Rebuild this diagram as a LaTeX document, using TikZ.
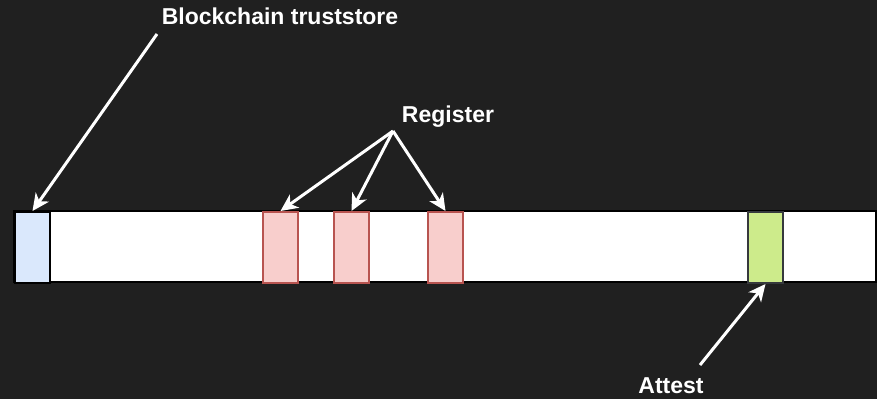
\documentclass[tikz,border=0pt]{standalone}
\usepackage{fontspec}
\setmainfont{Liberation Sans}
\usetikzlibrary{arrows.meta}
\definecolor{bg}{HTML}{202020}
\definecolor{bluef}{HTML}{DAE8FC}
\definecolor{redf}{HTML}{F8CECC}
\definecolor{redd}{HTML}{B85450}
\definecolor{greenf}{HTML}{CDEB8B}
\definecolor{greend}{HTML}{36393D}
\begin{document}
\begin{tikzpicture}[x=1pt,y=-1pt,
  lbl/.style={text=white,font=\bfseries\fontsize{23}{27}\selectfont,inner sep=0pt},
  cell/.style={draw=black,line width=2pt,minimum width=35pt,minimum height=71pt,inner sep=0pt,anchor=north west},
  regcell/.style={cell,draw=redd,fill=redf},
  arr/.style={draw=white,line width=3pt,-{Stealth[length=17pt,width=16pt,inset=5pt]}}]
\fill[bg] (0,0) rectangle (877,399);
\useasboundingbox (0,0) rectangle (877,399);
\draw[fill=white,draw=black,line width=2pt] (14,211) rectangle (876,282);
\node[cell,fill=bluef] (bt) at (14,211) {};
\node[regcell] (r1) at (262,211) {};
\node[regcell] (r2) at (333,211) {};
\node[regcell] (r3) at (427,211) {};
\node[cell,fill=greenf,draw=greend] (at) at (747,211) {};
\node[lbl] (tbt) at (280,16) {Blockchain truststore};
\node[lbl] (treg) at (448,117) {Register};
\node[lbl] (tat) at (671,386) {Attest};
\coordinate (s1) at (157,34);
\coordinate (s2) at (393,131);
\coordinate (s3) at (700,365);
\draw[arr] (s1) -- (bt.north);
\draw[arr] (s2) -- (r1.north);
\draw[arr] (s2) -- (r2.north);
\draw[arr] (s2) -- (r3.north);
\draw[arr] (s3) -- (at.south);
\end{tikzpicture}
\end{document}
